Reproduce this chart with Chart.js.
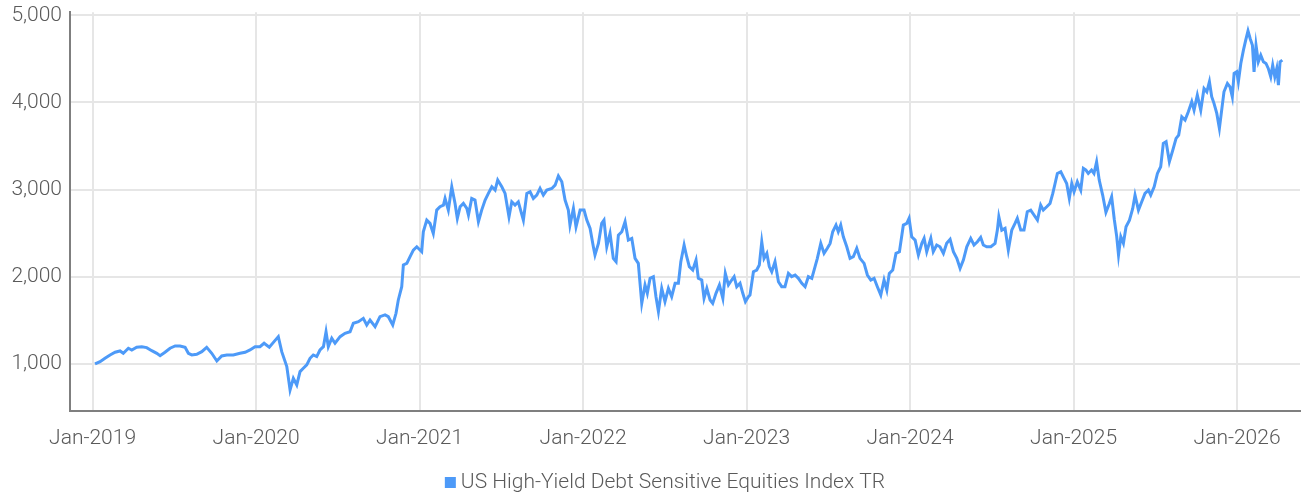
<!DOCTYPE html>
<html lang="en">
<head>
  <meta charset="UTF-8" />
  <title>US High-Yield Debt Sensitive Equities Index TR</title>
  <script src="https://cdn.jsdelivr.net/npm/chart.js"></script>
  <style>
    html, body { margin: 0; padding: 0; background: #fff; }
    #wrap { width: 1304px; height: 497px; }
  </style>
</head>
<body>
  <div id="wrap">
    <canvas id="grafico"></canvas>
  </div>

  <script>
    // Series label and axis ticks
    const serieNome = 'US High-Yield Debt Sensitive Equities Index TR';
    const anosTicks = [2019, 2020, 2021, 2022, 2023, 2024, 2025, 2026];
    const valoresTicks = [1000, 2000, 3000, 4000, 5000];

    // Dates as decimal years
    const datas = [
      2019.015, 2019.046, 2019.076, 2019.107, 2019.138, 2019.168, 2019.188, 2019.219, 2019.240, 2019.270,
      2019.301, 2019.331, 2019.362, 2019.393, 2019.413, 2019.443, 2019.474, 2019.505, 2019.535, 2019.566,
      2019.586, 2019.607, 2019.637, 2019.668, 2019.698, 2019.729, 2019.760, 2019.790, 2019.821, 2019.861,
      2019.902, 2019.933, 2019.963, 2019.994, 2020.024, 2020.049, 2020.081, 2020.110, 2020.136, 2020.157,
      2020.188, 2020.208, 2020.228, 2020.249, 2020.269, 2020.289, 2020.310, 2020.330, 2020.350, 2020.371,
      2020.391, 2020.412, 2020.428, 2020.442, 2020.463, 2020.483, 2020.514, 2020.544, 2020.575, 2020.595,
      2020.626, 2020.656, 2020.677, 2020.697, 2020.728, 2020.758, 2020.789, 2020.809, 2020.836, 2020.856,
      2020.870, 2020.891, 2020.901, 2020.922, 2020.942, 2020.962, 2020.983, 2021.013, 2021.023, 2021.044,
      2021.064, 2021.084, 2021.105, 2021.125, 2021.146, 2021.156, 2021.176, 2021.197, 2021.217, 2021.231,
      2021.248, 2021.268, 2021.289, 2021.299, 2021.319, 2021.339, 2021.360, 2021.380, 2021.401, 2021.421,
      2021.442, 2021.462, 2021.478, 2021.503, 2021.523, 2021.547, 2021.564, 2021.584, 2021.604, 2021.635,
      2021.656, 2021.676, 2021.696, 2021.717, 2021.737, 2021.757, 2021.778, 2021.809, 2021.829, 2021.849,
      2021.870, 2021.890, 2021.910, 2021.920, 2021.941, 2021.957, 2021.982, 2022.006, 2022.023, 2022.043,
      2022.063, 2022.073, 2022.094, 2022.114, 2022.128, 2022.145, 2022.165, 2022.185, 2022.202, 2022.216,
      2022.237, 2022.257, 2022.277, 2022.298, 2022.318, 2022.338, 2022.359, 2022.379, 2022.393, 2022.410,
      2022.430, 2022.446, 2022.461, 2022.481, 2022.501, 2022.522, 2022.542, 2022.563, 2022.583, 2022.598,
      2022.618, 2022.634, 2022.650, 2022.671, 2022.691, 2022.705, 2022.726, 2022.740, 2022.757, 2022.777,
      2022.793, 2022.813, 2022.834, 2022.855, 2022.870, 2022.889, 2022.909, 2022.924, 2022.940, 2022.960,
      2022.977, 2022.993, 2023.011, 2023.021, 2023.042, 2023.062, 2023.078, 2023.093, 2023.107, 2023.124,
      2023.139, 2023.154, 2023.174, 2023.195, 2023.215, 2023.235, 2023.256, 2023.276, 2023.297, 2023.317,
      2023.338, 2023.358, 2023.378, 2023.399, 2023.419, 2023.433, 2023.454, 2023.474, 2023.494, 2023.511,
      2023.527, 2023.547, 2023.561, 2023.576, 2023.592, 2023.613, 2023.633, 2023.653, 2023.674, 2023.694,
      2023.719, 2023.739, 2023.760, 2023.780, 2023.800, 2023.821, 2023.841, 2023.858, 2023.873, 2023.894,
      2023.914, 2023.935, 2023.959, 2023.980, 2023.994, 2024.010, 2024.031, 2024.051, 2024.072, 2024.086,
      2024.102, 2024.127, 2024.142, 2024.163, 2024.183, 2024.204, 2024.224, 2024.245, 2024.265, 2024.286,
      2024.306, 2024.326, 2024.347, 2024.371, 2024.391, 2024.412, 2024.432, 2024.448, 2024.469, 2024.494,
      2024.520, 2024.534, 2024.543, 2024.561, 2024.581, 2024.601, 2024.622, 2024.642, 2024.656, 2024.677,
      2024.697, 2024.717, 2024.738, 2024.758, 2024.779, 2024.799, 2024.815, 2024.836, 2024.856, 2024.873,
      2024.887, 2024.901, 2024.922, 2024.942, 2024.958, 2024.974, 2024.989, 2025.003, 2025.023, 2025.044,
      2025.060, 2025.076, 2025.090, 2025.110, 2025.125, 2025.141, 2025.157, 2025.178, 2025.198, 2025.219,
      2025.233, 2025.249, 2025.264, 2025.275, 2025.289, 2025.305, 2025.321, 2025.342, 2025.362, 2025.376,
      2025.397, 2025.417, 2025.437, 2025.458, 2025.472, 2025.493, 2025.513, 2025.533, 2025.549, 2025.566,
      2025.586, 2025.607, 2025.627, 2025.643, 2025.662, 2025.682, 2025.702, 2025.723, 2025.737, 2025.757,
      2025.778, 2025.798, 2025.815, 2025.831, 2025.845, 2025.859, 2025.876, 2025.892, 2025.906, 2025.920,
      2025.941, 2025.957, 2025.971, 2025.982, 2025.998, 2026.008, 2026.023, 2026.039, 2026.053, 2026.067,
      2026.080, 2026.094, 2026.104, 2026.116, 2026.130, 2026.145, 2026.161, 2026.177, 2026.191, 2026.206,
      2026.218, 2026.231, 2026.243, 2026.253, 2026.263, 2026.277
    ];

    // Index level for each date
    const valores = [
      1000, 1026, 1065, 1103, 1134, 1149, 1122, 1180, 1160, 1191,
      1198, 1187, 1152, 1122, 1095, 1134, 1180, 1206, 1206, 1191,
      1122, 1103, 1111, 1141, 1191, 1122, 1034, 1092, 1103, 1103,
      1122, 1134, 1160, 1198, 1198, 1237, 1191, 1256, 1313, 1141,
      970, 702, 836, 759, 912, 950, 989, 1065, 1103, 1084,
      1160, 1198, 1370, 1198, 1294, 1237, 1313, 1352, 1370, 1466,
      1485, 1523, 1447, 1504, 1428, 1542, 1562, 1542, 1447, 1581,
      1734, 1886, 2135, 2154, 2230, 2306, 2344, 2287, 2516, 2650,
      2612, 2497, 2765, 2803, 2822, 2899, 2765, 3032, 2841, 2670,
      2803, 2841, 2784, 2708, 2899, 2880, 2631, 2765, 2880, 2956,
      3032, 2994, 3109, 3032, 2956, 2688, 2860, 2822, 2860, 2650,
      2956, 2975, 2899, 2937, 3013, 2937, 2994, 3013, 3051, 3155,
      3089, 2880, 2765, 2593, 2784, 2573, 2765, 2765, 2650, 2555,
      2344, 2249, 2382, 2612, 2650, 2344, 2497, 2211, 2173, 2478,
      2516, 2631, 2421, 2440, 2211, 2154, 1695, 1906, 1810, 1982,
      2001, 1771, 1600, 1867, 1714, 1867, 1771, 1925, 1925, 2173,
      2364, 2230, 2116, 2077, 2192, 1982, 1963, 1753, 1867, 1734,
      1695, 1810, 1906, 1753, 2039, 1906, 1963, 2001, 1886, 1925,
      1810, 1714, 1771, 1790, 2058, 2077, 2135, 2402, 2211, 2268,
      2116, 2058, 2173, 1943, 1886, 1886, 2039, 2001, 2020, 1982,
      1925, 1886, 2001, 1982, 2116, 2211, 2383, 2268, 2326, 2383,
      2516, 2593, 2516, 2593, 2459, 2344, 2211, 2230, 2326, 2211,
      2154, 2020, 1963, 1982, 1886, 1790, 1963, 1848, 2039, 2078,
      2268, 2287, 2593, 2612, 2670, 2459, 2421, 2249, 2383, 2440,
      2287, 2440, 2287, 2364, 2344, 2268, 2383, 2429, 2287, 2211,
      2097, 2192, 2344, 2440, 2364, 2402, 2452, 2364, 2344, 2344,
      2383, 2535, 2688, 2535, 2555, 2306, 2535, 2612, 2670, 2535,
      2535, 2746, 2765, 2708, 2650, 2822, 2765, 2803, 2841, 2956,
      3070, 3185, 3204, 3128, 3070, 2899, 3070, 2975, 3089, 2994,
      3243, 3224, 3185, 3224, 3185, 3319, 3109, 2937, 2740, 2840,
      2918, 2660, 2460, 2249, 2459, 2383, 2573, 2650, 2784, 2937,
      2765, 2860, 2956, 2994, 2937, 3032, 3185, 3262, 3530, 3549,
      3319, 3453, 3587, 3625, 3835, 3797, 3893, 4008, 3912, 4084,
      3912, 4160, 4122, 4237, 4065, 3989, 3874, 3702, 3912, 4122,
      4218, 4179, 4065, 4332, 4351, 4237, 4447, 4600, 4714, 4820,
      4733, 4656, 4351, 4656, 4466, 4542, 4466, 4447, 4390, 4294,
      4428, 4294, 4390, 4198, 4466, 4485
    ];

    const azul = '#4d9af8';
    const cinzaTexto = '#5a5a5a';
    const fonte = 'Roboto, "Liberation Sans", sans-serif';

    const pontos = datas.map((d, i) => ({ x: d, y: valores[i] }));

    // Legend drawn by hand: small square + label, centred under the plot
    const legendaManual = {
      id: 'legendaManual',
      afterDraw(chart) {
        const ctx = chart.ctx;
        ctx.save();
        ctx.font = '300 21px ' + fonte;
        const larguraTexto = ctx.measureText(serieNome).width;
        const total = 11 + 5 + larguraTexto;
        const x0 = chart.width / 2 + 13 - total / 2;
        ctx.fillStyle = azul;
        ctx.fillRect(x0, 477, 11, 11);
        ctx.fillStyle = cinzaTexto;
        ctx.textBaseline = 'alphabetic';
        ctx.fillText(serieNome, x0 + 16, 488);
        ctx.restore();
      }
    };

    new Chart(document.getElementById('grafico'), {
      type: 'line',
      data: {
        datasets: [{
          label: serieNome,
          data: pontos,
          borderColor: azul,
          backgroundColor: azul,
          borderWidth: 3,
          pointRadius: 0,
          tension: 0,
          fill: false
        }]
      },
      options: {
        responsive: true,
        maintainAspectRatio: false,
        animation: false,
        layout: { padding: { left: 0, right: 4, top: 0, bottom: 46 } },
        plugins: {
          tooltip: { enabled: false },
          legend: { display: false }
        },
        scales: {
          x: {
            type: 'linear',
            min: 2018.862,
            max: 2026.385,
            afterBuildTicks: s => { s.ticks = anosTicks.map(v => ({ value: v })); },
            afterFit: s => { s.height = 40; },
            ticks: {
              color: cinzaTexto,
              font: { family: fonte, size: 21, weight: '300' },
              padding: 15,
              maxRotation: 0,
              autoSkip: false,
              callback: v => 'Jan-' + v
            },
            grid: { color: '#e6e6e6', lineWidth: 2, drawTicks: false },
            border: { color: '#7f7f7f', width: 2 }
          },
          y: {
            min: 460,
            max: 5035,
            afterBuildTicks: s => { s.ticks = valoresTicks.map(v => ({ value: v })); },
            afterFit: s => { s.width = 70; },
            ticks: {
              color: cinzaTexto,
              font: { family: fonte, size: 21, weight: '300', lineHeight: 0.4 },
              padding: 8,
              callback: v => v.toLocaleString('en-US')
            },
            grid: { color: '#e6e6e6', lineWidth: 2, drawTicks: false },
            border: { color: '#7f7f7f', width: 2 }
          }
        }
      },
      plugins: [legendaManual]
    });
  </script>
</body>
</html>
